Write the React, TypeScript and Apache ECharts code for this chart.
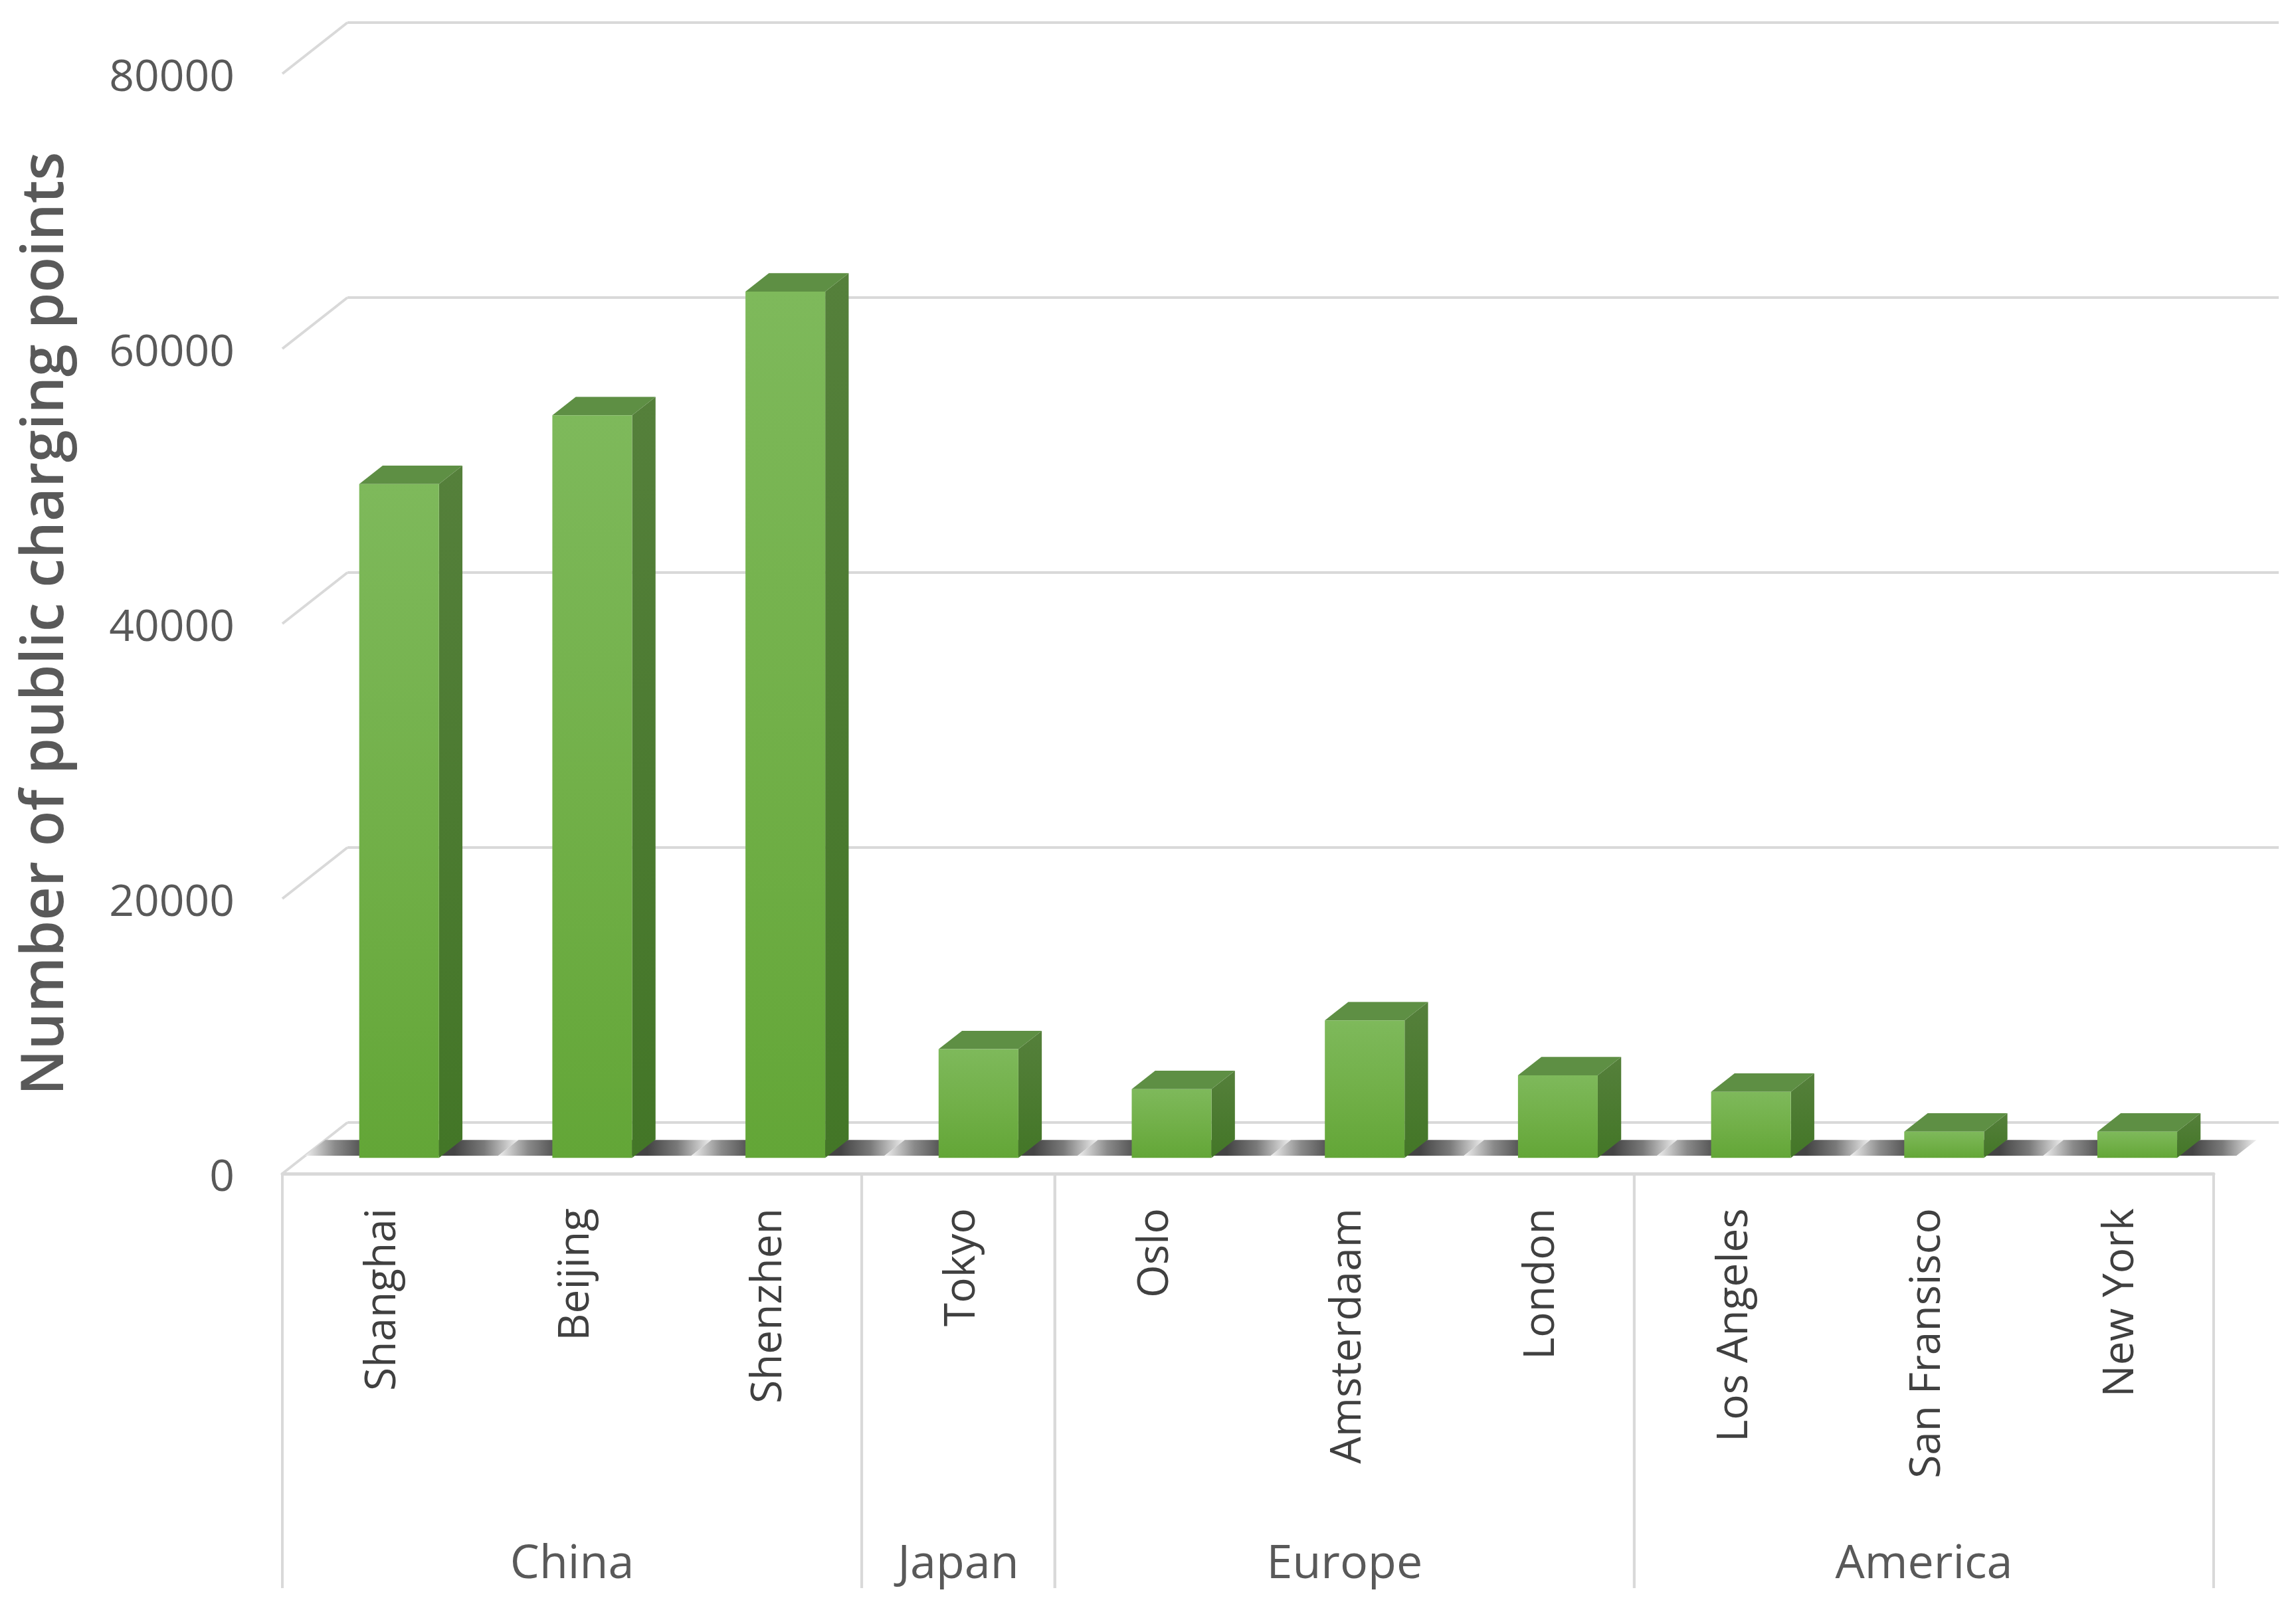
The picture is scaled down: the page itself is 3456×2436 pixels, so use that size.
import React, { useEffect, useRef } from 'react';
import * as echarts from 'echarts';

const cities = ['Shanghai', 'Beijing', 'Shenzhen', 'Tokyo', 'Oslo', 'Amsterdaam', 'London', 'Los Angeles', 'San Fransisco', 'New York'];
const chargingPoints = [49000, 54000, 63000, 7900, 5000, 10000, 6000, 4800, 1900, 1900];
const regionNames = ['China', 'Japan', 'Europe', 'America'];
const regionSpans = [[0, 2], [3, 3], [4, 6], [7, 9]];
const yTicks = [0, 20000, 40000, 60000, 80000];
const yAxisTitle = 'Number of public charging points';

// 3D projection offsets (pixels) of the floor depth
const DX = 98;
const DY = 77;
const BAR_FRONT = 0.31;
const BAR_DEPTH = 0.36;
const BAR_WIDTH = 0.413;

const GRID_LEFT = 425;
const GRID_TOP = 111;
const GRID_W = 2907;
const GRID_H = 1656;

export default function App() {
  const ref = useRef<HTMLDivElement>(null);
  useEffect(() => {
    if (!ref.current) return;
    const chart = echarts.init(ref.current, null, { renderer: 'svg' });
    const font = "'Open Sans', 'DejaVu Sans', sans-serif";

    const frontGrad = new echarts.graphic.LinearGradient(0, 0, 0, 1, [
      { offset: 0, color: '#7eb95b' },
      { offset: 0.5, color: '#72b049' },
      { offset: 1, color: '#63a637' },
    ]);
    const sideGrad = new echarts.graphic.LinearGradient(0, 0, 0, 1, [
      { offset: 0, color: '#55803b' },
      { offset: 1, color: '#437627' },
    ]);
    const stripGrad = new echarts.graphic.LinearGradient(0, 0, 1, 0, [
      { offset: 0, color: '#f0f0f0' },
      { offset: 0.14, color: '#8a8a8a' },
      { offset: 0.3, color: '#444444' },
      { offset: 0.7, color: '#444444' },
      { offset: 0.84, color: '#7a7a7a' },
      { offset: 1, color: '#f0f0f0' },
    ]);

    const option: any = {
      animation: false,
      backgroundColor: '#ffffff',
      grid: [
        { left: GRID_LEFT, top: GRID_TOP, width: GRID_W, height: GRID_H },
        { left: GRID_LEFT + DX, top: GRID_TOP - DY, width: GRID_W, height: GRID_H },
      ],
      xAxis: [
        {
          type: 'category',
          gridIndex: 0,
          data: cities,
          axisLine: { show: true, lineStyle: { color: '#d9d9d9', width: 5 } },
          axisTick: { show: false },
          axisLabel: {
            rotate: 90,
            margin: 52,
            fontSize: 64,
            color: '#404040',
            fontFamily: font,
          },
          splitLine: { show: false },
        },
        {
          type: 'category',
          gridIndex: 1,
          data: cities,
          show: false,
        },
      ],
      yAxis: [
        {
          type: 'value',
          gridIndex: 0,
          min: 0,
          max: 80000,
          interval: 20000,
          name: yAxisTitle,
          nameLocation: 'middle',
          nameRotate: 90,
          nameGap: 320,
          nameTextStyle: { fontSize: 88, fontWeight: 600, color: '#595959', fontFamily: font },
          axisLine: { show: false },
          axisTick: { show: false },
          splitLine: { show: false },
          axisLabel: {
            margin: 72,
            fontSize: 66,
            color: '#595959',
            fontFamily: font,
            formatter: (v: number) => String(v),
          },
        },
        {
          type: 'value',
          gridIndex: 1,
          min: 0,
          max: 80000,
          interval: 20000,
          axisLine: { show: false },
          axisTick: { show: false },
          axisLabel: { show: false },
          splitLine: { show: true, lineStyle: { color: '#d9d9d9', width: 4 } },
        },
      ],
      series: [
        {
          type: 'custom',
          name: 'wall-edges',
          xAxisIndex: 0,
          yAxisIndex: 0,
          z: 2,
          silent: true,
          data: yTicks.map((v) => [0, v]),
          encode: { x: 0, y: 1 },
          renderItem: (params: any, api: any) => {
            const y = api.coord([0, api.value(1)])[1];
            const x = params.coordSys.x;
            return {
              type: 'line',
              shape: { x1: x, y1: y, x2: x + DX, y2: y - DY },
              style: { stroke: '#d9d9d9', lineWidth: 4 },
            };
          },
        },
        {
          type: 'custom',
          name: 'floor-shadow',
          xAxisIndex: 0,
          yAxisIndex: 0,
          z: 3,
          silent: true,
          data: cities.map((c, i) => [i, 0]),
          encode: { x: 0, y: 1 },
          renderItem: (params: any, api: any) => {
            const base = api.coord([api.value(0), 0]);
            const band = api.size([1, 0])[0];
            const L = base[0] - band / 2;
            const R = base[0] + band / 2;
            const d0 = 0.35;
            const d1 = 0.66;
            const y0 = base[1];
            return {
              type: 'polygon',
              shape: {
                points: [
                  [L + d0 * DX, y0 - d0 * DY],
                  [R + d0 * DX, y0 - d0 * DY],
                  [R + d1 * DX, y0 - d1 * DY],
                  [L + d1 * DX, y0 - d1 * DY],
                ],
              },
              style: { fill: stripGrad },
            };
          },
        },
        {
          type: 'custom',
          name: 'Number of public charging points',
          xAxisIndex: 0,
          yAxisIndex: 0,
          z: 4,
          data: chargingPoints.map((v, i) => [i, v]),
          encode: { x: 0, y: 1 },
          renderItem: (params: any, api: any) => {
            const i = api.value(0);
            const v = api.value(1);
            const base = api.coord([i, 0]);
            const top = api.coord([i, v]);
            const band = api.size([1, 0])[0];
            const w = band * BAR_WIDTH;
            const ox = DX * BAR_FRONT;
            const oy = DY * BAR_FRONT;
            const xl = base[0] - w / 2 + ox;
            const xr = xl + w;
            const yb = base[1] - oy;
            const yt = top[1] - oy;
            const dx = DX * BAR_DEPTH;
            const dy = DY * BAR_DEPTH;
            return {
              type: 'group',
              children: [
                {
                  type: 'polygon',
                  shape: { points: [[xr, yt], [xr + dx, yt - dy], [xr + dx, yb - dy], [xr, yb]] },
                  style: { fill: sideGrad },
                },
                {
                  type: 'polygon',
                  shape: { points: [[xl, yt], [xr, yt], [xr + dx, yt - dy], [xl + dx, yt - dy]] },
                  style: { fill: '#5e8f44' },
                },
                {
                  type: 'rect',
                  shape: { x: xl, y: yt, width: w, height: yb - yt },
                  style: { fill: frontGrad },
                },
              ],
            };
          },
        },
        {
          type: 'custom',
          name: 'regions',
          xAxisIndex: 0,
          yAxisIndex: 0,
          z: 2,
          silent: true,
          data: regionSpans.map((s) => [s[0], s[1]]),
          encode: { x: 0 },
          renderItem: (params: any, api: any) => {
            const s = regionSpans[params.dataIndex];
            const band = api.size([1, 0])[0];
            const a = api.coord([s[0], 0]);
            const b = api.coord([s[1], 0]);
            const left = a[0] - band / 2;
            const right = b[0] + band / 2;
            const y0 = a[1];
            const mid = (a[0] + b[0]) / 2;
            return {
              type: 'group',
              children: [
                { type: 'line', shape: { x1: left, y1: y0, x2: left, y2: y0 + 624 }, style: { stroke: '#d9d9d9', lineWidth: 4 } },
                { type: 'line', shape: { x1: right, y1: y0, x2: right, y2: y0 + 624 }, style: { stroke: '#d9d9d9', lineWidth: 4 } },
                {
                  type: 'text',
                  x: mid,
                  y: y0 + 582,
                  style: {
                    text: regionNames[params.dataIndex],
                    fontSize: 70,
                    fontFamily: font,
                    fill: '#595959',
                    align: 'center',
                    verticalAlign: 'middle',
                  },
                },
              ],
            };
          },
        },
      ],
    };
    chart.setOption(option);
    return () => chart.dispose();
  }, []);
  return <div ref={ref} style={{ position: 'absolute', left: 0, top: 0, width: 3456, height: 2436 }} />;
}
